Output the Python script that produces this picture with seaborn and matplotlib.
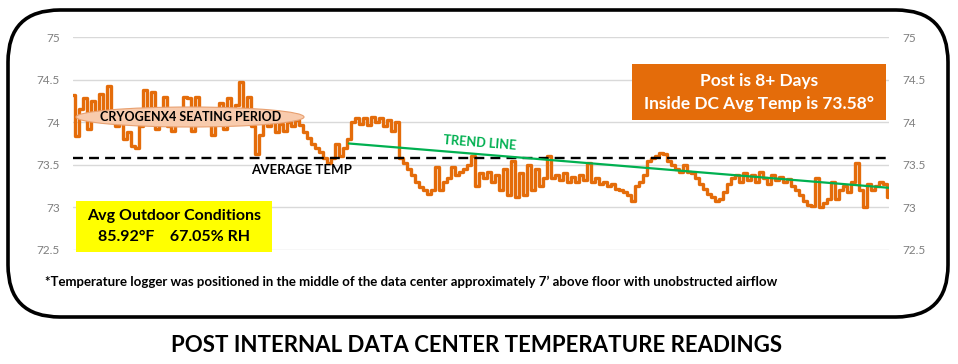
import numpy as np
import pandas as pd
import matplotlib
matplotlib.use("Agg")
import matplotlib.pyplot as plt
import seaborn as sns
from matplotlib.patches import Rectangle, Ellipse, FancyBboxPatch
from matplotlib.transforms import IdentityTransform

# temperature readings (deg F), left to right
temps = [
    74.32, 73.84, 74.15, 74.28, 73.92, 74.25, 74.05, 74.33, 74.08, 74.43,
    74.02, 73.95, 74.00, 73.80, 73.88, 73.72, 73.70, 73.95, 74.38, 74.02,
    74.36, 73.92, 74.05, 74.30, 73.95, 73.90, 73.98, 74.05, 74.30, 74.28,
    73.90, 74.30, 74.08, 74.12, 74.00, 73.85, 74.00, 74.22, 73.92, 74.28,
    74.10, 74.20, 74.47, 74.15, 74.30, 73.95, 73.63, 73.85, 74.00, 73.95,
    74.02, 73.88, 73.98, 73.90, 74.00, 73.95, 74.03, 73.97, 73.88, 73.82,
    73.75, 73.70, 73.65, 73.58, 73.52, 73.58, 73.75, 73.60, 73.70, 73.80,
    74.00, 74.05, 73.98, 74.05, 73.97, 74.06, 74.00, 74.05, 73.95, 74.03,
    73.90, 74.00, 73.58, 73.52, 73.45, 73.38, 73.30, 73.24, 73.20, 73.16,
    73.20, 73.47, 73.20, 73.30, 73.35, 73.48, 73.38, 73.42, 73.45, 73.50,
    73.60, 73.25, 73.40, 73.35, 73.42, 73.30, 73.38, 73.20, 73.45, 73.15,
    73.55, 73.12, 73.40, 73.15, 73.50, 73.20, 73.45, 73.25, 73.35, 73.60,
    73.35, 73.38, 73.32, 73.40, 73.30, 73.36, 73.30, 73.38, 73.32, 73.52,
    73.30, 73.35, 73.28, 73.30, 73.25, 73.27, 73.22, 73.20, 73.18, 73.14,
    73.08, 73.25, 73.30, 73.38, 73.55, 73.58, 73.60, 73.64, 73.63, 73.55,
    73.50, 73.45, 73.42, 73.50, 73.42, 73.40, 73.35, 73.28, 73.22, 73.16,
    73.12, 73.08, 73.10, 73.18, 73.28, 73.35, 73.38, 73.30, 73.40, 73.32,
    73.38, 73.30, 73.42, 73.35, 73.28, 73.38, 73.32, 73.36, 73.30, 73.33,
    73.25, 73.20, 73.15, 73.08, 73.03, 73.02, 73.34, 73.00, 73.05, 73.10,
    73.30, 73.10, 73.20, 73.25, 73.18, 73.30, 73.52, 73.20, 73.00, 73.28,
    73.20, 73.25, 73.30, 73.28, 73.12,
]
avg_temp = 73.58
trend_start, trend_end = 73.75, 73.23
trend_from_idx = 69
y_ticks = [72.5, 73, 73.5, 74, 74.5, 75]

ORANGE = "#E46C0A"
GREEN = "#00B050"
FONT = ["Lato", "DejaVu Sans"]

sns.set_style("white")
plt.rcParams["font.family"] = FONT

W, H = 958, 364
fig = plt.figure(figsize=(W / 100, H / 100), dpi=100)


def fx(x):
    return x / W


def fy(y):
    return 1 - y / H


ax = fig.add_axes([fx(73), fy(250), fx(889) - fx(73), fy(37) - fy(250)])

df = pd.DataFrame({"reading": np.arange(len(temps)), "temp": temps})
sns.lineplot(data=df, x="reading", y="temp", ax=ax, color=ORANGE, lw=2.4,
             drawstyle="steps-mid", zorder=2)

ax.axhline(avg_temp, color="black", lw=1.7, dashes=(4.2, 2.6), zorder=3)

n = len(temps) - 1
ax.plot([trend_from_idx, n], [trend_start, trend_end], color=GREEN, lw=1.6, zorder=4)

ax.set_xlim(0, n)
ax.set_ylim(72.5, 75)
ax.set_yticks(y_ticks)
ax.set_yticklabels([f"{t:g}" for t in y_ticks])
ax.grid(axis="y", color="#d9d9d9", lw=1)
ax.set_axisbelow(True)
ax.set_xticks([])
ax.set_xlabel("")
ax.set_ylabel("")
for s in ax.spines.values():
    s.set_visible(False)
ax.tick_params(axis="y", labelright=True, left=False, right=False,
               labelsize=8.5, labelcolor="#7f7f7f", pad=6)

# annotations on the chart
fig.text(fx(302), fy(170), "AVERAGE TEMP", ha="center", va="center",
         fontsize=9.5, fontweight="bold", color="black")
fig.text(fx(480), fy(143), "TREND LINE", ha="center", va="center", fontsize=9.2,
         fontweight="bold", color=GREEN, rotation=-4.5)

fig.add_artist(Ellipse((fx(190), fy(117)), fx(228), 20 / H, transform=fig.transFigure,
                       facecolor="#F8CBAD", edgecolor="#E8A070", lw=0.8, zorder=5))
fig.text(fx(191), fy(117), "CRYOGENX4 SEATING PERIOD", ha="center", va="center",
         fontsize=9.0, fontweight="bold", color="black", zorder=6)

fig.add_artist(Rectangle((fx(632), fy(120)), fx(254), 56 / H, transform=fig.transFigure,
                         facecolor=ORANGE, edgecolor="none", zorder=5))
fig.text(fx(759), fy(81), "Post is 8+ Days", ha="center", va="center", fontsize=12.5,
         fontweight="bold", color="white", zorder=6)
fig.text(fx(759), fy(104), "Inside DC Avg Temp is 73.58°", ha="center", va="center",
         fontsize=12.5, fontweight="bold", color="white", zorder=6)

fig.add_artist(Rectangle((fx(76), fy(252)), fx(196), 51 / H, transform=fig.transFigure,
                         facecolor="#FFFF00", edgecolor="none", zorder=5))
fig.text(fx(174), fy(216), "Avg Outdoor Conditions", ha="center", va="center",
         fontsize=11.5, fontweight="bold", color="black", zorder=6)
fig.text(fx(174), fy(237), "85.92°F    67.05% RH", ha="center", va="center",
         fontsize=11.5, fontweight="bold", color="black", zorder=6)

fig.text(fx(45), fy(282), "*Temperature logger was positioned in the middle of the data center "
         "approximately 7\u2019 above floor with unobstructed airflow",
         ha="left", va="center", fontsize=9.5, fontweight="bold", color="black")

# rounded frame around the chart
fig.add_artist(FancyBboxPatch((8, H - 317), 940, 307,
                              boxstyle="round,pad=0,rounding_size=52",
                              transform=IdentityTransform(), facecolor="none",
                              edgecolor="black", lw=2.6, zorder=10))

fig.text(fx(477), fy(345), "POST INTERNAL DATA CENTER TEMPERATURE READINGS",
         ha="center", va="center", fontsize=16, fontweight="bold", color="black")

fig.savefig("out.png", dpi=100)
